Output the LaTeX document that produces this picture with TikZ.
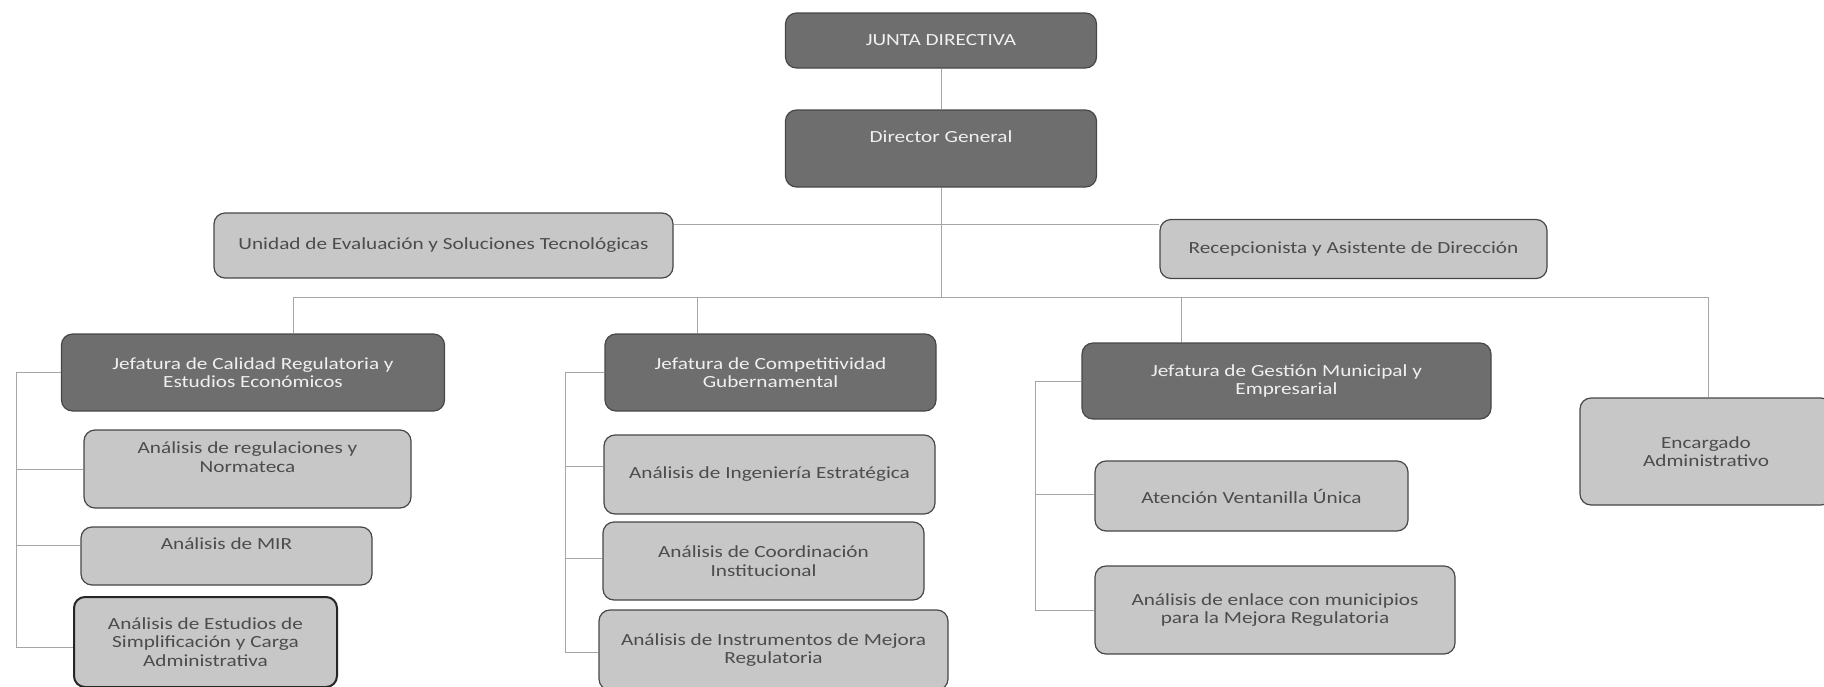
\documentclass[tikz,border=0pt]{standalone}
\usepackage{fontspec}
\setmainfont{Carlito}[FakeStretch=1.25]
\usetikzlibrary{arrows,shapes}
\tikzstyle{box}=[rectangle, rounded corners=11pt, draw=black!72, line width=1.2pt, align=center, inner sep=2pt, font=\fontsize{17}{18.5}\selectfont]
\tikzstyle{dark box}=[box, fill=black!57, text=black!6]
\tikzstyle{light box}=[box, fill=black!22, text=black!70]
\tikzstyle{thick box}=[light box, line width=2pt, draw=black!85]
\tikzstyle{link}=[draw, black!35, line width=0.9pt]

\begin{document}
\begin{tikzpicture}[x=1pt, y=-1pt]
    \useasboundingbox (0,0) rectangle (1824,686);
    % First we draw the dark boxes (heads)
    \foreach \pos/\name/\w/\h/\txt in {{(941,40.5)/junta/311pt/55pt/JUNTA DIRECTIVA},
        {(941,148.5)/director/311pt/77pt/Director General\\\strut},
        {(253,372.5)/jefcal/383pt/77pt/Jefatura de Calidad Regulatoria y\\Estudios Económicos},
        {(770.5,372.5)/jefcomp/331pt/77pt/Jefatura de Competitividad\\Gubernamental},
        {(1286.5,381)/jefges/409pt/76pt/Jefatura de Gestión Municipal y\\Empresarial}}
        \node[dark box, minimum width=\w, minimum height=\h] (\name) at \pos {\txt};

    % Then the light boxes (units)
    \foreach \pos/\name/\w/\h/\txt in {{(443.5,245.5)/unidad/459pt/65pt/Unidad de Evaluación y Soluciones Tecnológicas},
        {(1353.5,249)/recep/387pt/59pt/Recepcionista y Asistente de Dirección},
        {(1706,451.5)/encargado/252pt/107pt/Encargado\\Administrativo},
        {(247.5,469)/regnorm/327pt/78pt/Análisis de regulaciones y\\Normateca\\\strut},
        {(226.5,556)/mir/291pt/58pt/Análisis de MIR\\\strut},
        {(769.5,474.5)/ingenieria/331pt/79pt/Análisis de Ingeniería Estratégica},
        {(763.5,561)/coordinacion/321pt/78pt/Análisis de Coordinación\\Institucional},
        {(773.5,650)/instrumentos/349pt/80pt/Análisis de Instrumentos de Mejora\\Regulatoria},
        {(1251.5,496)/ventanilla/313pt/70pt/Atención Ventanilla Única},
        {(1275,610)/enlace/360pt/88pt/Análisis de enlace con municipios\\para la Mejora Regulatoria}}
        \node[light box, minimum width=\w, minimum height=\h] (\name) at \pos {\txt};
    \node[thick box, minimum width=263pt, minimum height=90pt] (estudios) at (205.5,642) {Análisis de Estudios de\\Simplificación y Carga\\Administrativa};

    % Hub, bus and rails
    \coordinate (hub) at (941,224);
    \coordinate (b1) at (293,297);
    \coordinate (b2) at (697,297);
    \coordinate (b3) at (1181,297);
    \coordinate (b4) at (1708,297);
    \coordinate (r1) at (16,0);
    \coordinate (r2) at (565,0);
    \coordinate (r3) at (1035,0);

    % Connect the boxes
    \path[link] (junta) -- (director);
    \path[link] (director.south) -- (director.south |- b1);
    \path[link] (unidad.east |- hub) -- (recep.west |- hub);
    \path[link] (b1) -- (b4);
    \foreach \drop/\dest in {b1/jefcal, b2/jefcomp, b3/jefges, b4/encargado}
        \path[link] (\drop) -- (\drop |- \dest.north);
    \foreach \rail/\head/\last/\s in {r1/jefcal/estudios/-5pt, r2/jefcomp/instrumentos/-2pt, r3/jefges/enlace/0pt}
        \path[link] (\head.west) -- (\head.west -| \rail) -- ([yshift=\s]\last.west -| \rail) -- ([yshift=\s]\last.west);
    \foreach \rail/\dest/\s in {r1/regnorm/0pt, r1/mir/11pt, r2/ingenieria/8pt, r2/coordinacion/3pt, r3/ventanilla/2pt}
        \path[link] ([yshift=\s]\dest.west -| \rail) -- ([yshift=\s]\dest.west);
\end{tikzpicture}
\end{document}
